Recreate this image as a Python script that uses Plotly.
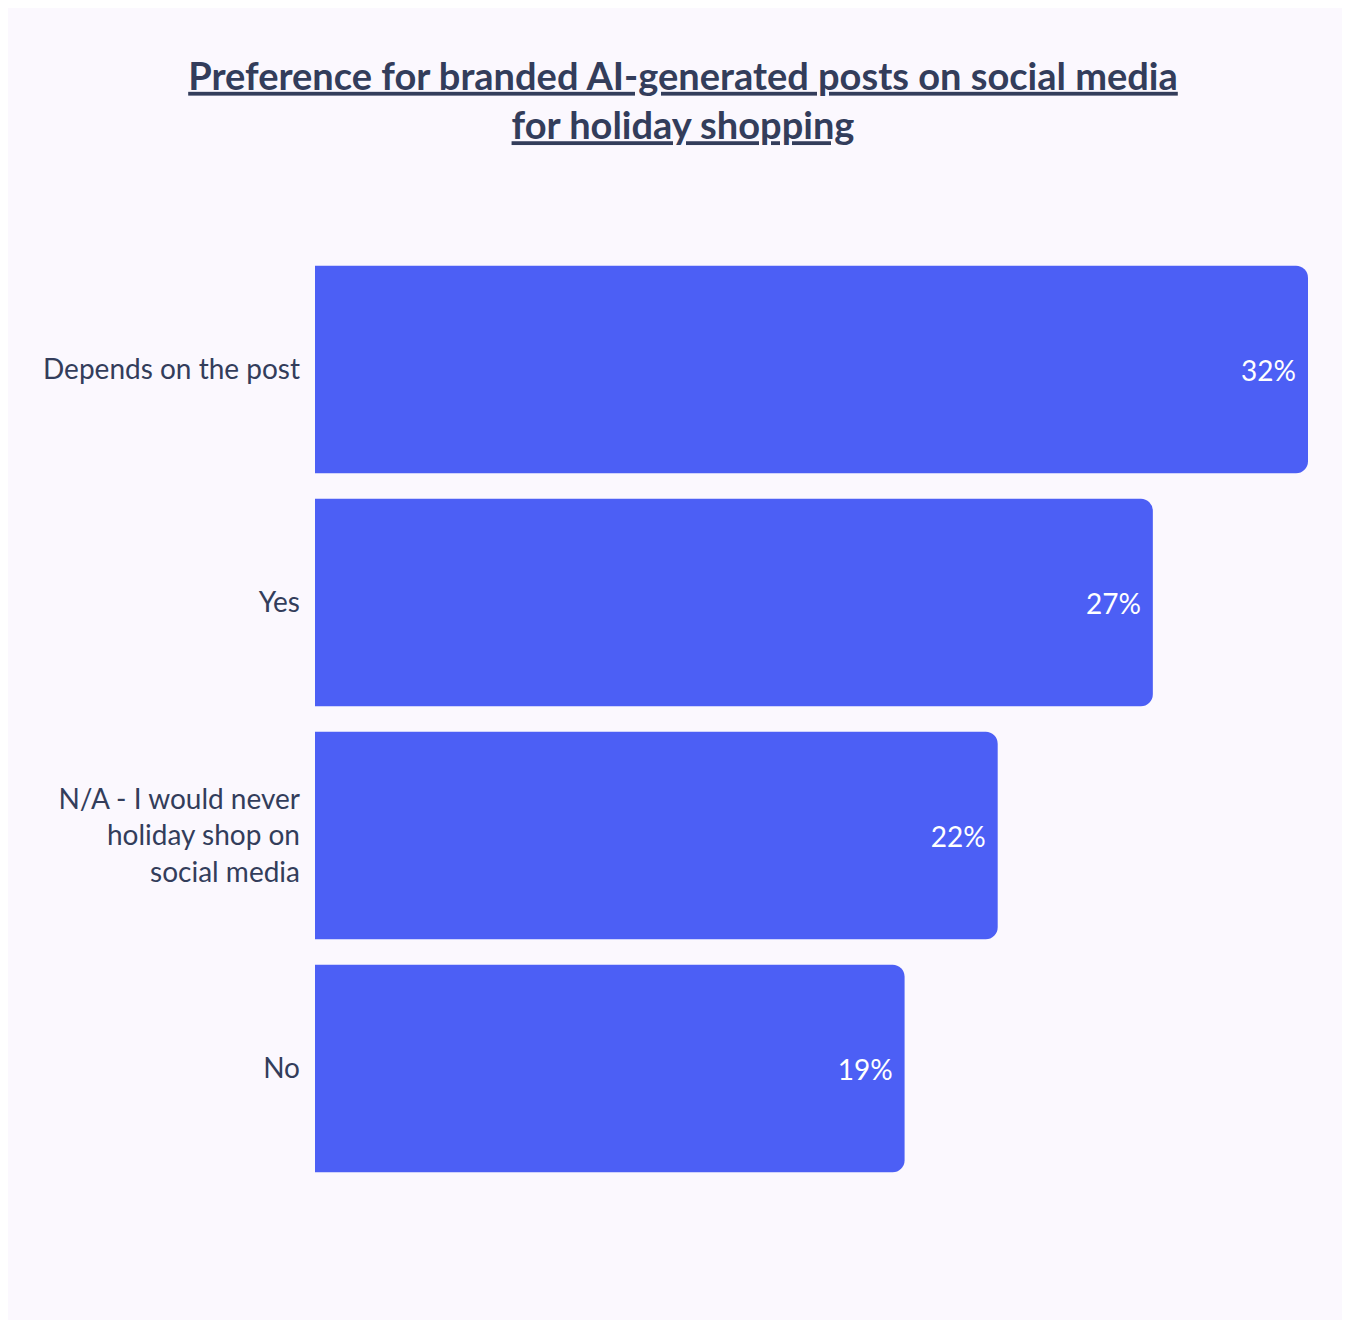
import plotly.graph_objects as go

categories = ["Depends on the post", "Yes", "N/A - I would never<br>holiday shop on<br>social media", "No"]
values = [32, 27, 22, 19]
labels = ["32%", "27%", "22%", "19%"]

fig = go.Figure(go.Bar(
    x=values, y=categories, orientation="h",
    marker=dict(color="#4C5FF5", line=dict(width=0)),
    text=labels, textposition="inside", insidetextanchor="end",
    textfont=dict(color="white", size=28, family="Lato"),
    width=0.89,
))

fig.update_layout(
    width=1350, height=1320,
    paper_bgcolor="#FBF8FE", plot_bgcolor="#FBF8FE",
    font=dict(family="Lato", color="#333D5B"),
    title=dict(
        text="<b><u>Preference for branded AI-generated posts on social media<br>for holiday shopping</u></b>",
        x=0.5, xanchor="center", y=0.938, yanchor="top",
        font=dict(size=38, color="#333D5B", family="Lato"),
    ),
    margin=dict(l=307, r=50, t=245, b=143),
    barcornerradius=12,
    showlegend=False,
    bargap=0.11,
)
fig.update_xaxes(range=[0, 32], visible=False)
fig.update_yaxes(autorange="reversed", showgrid=False, ticks="", ticklabelstandoff=14,
                 tickfont=dict(size=28, color="#333D5B", family="Lato"))

fig.write_html("out.html")
